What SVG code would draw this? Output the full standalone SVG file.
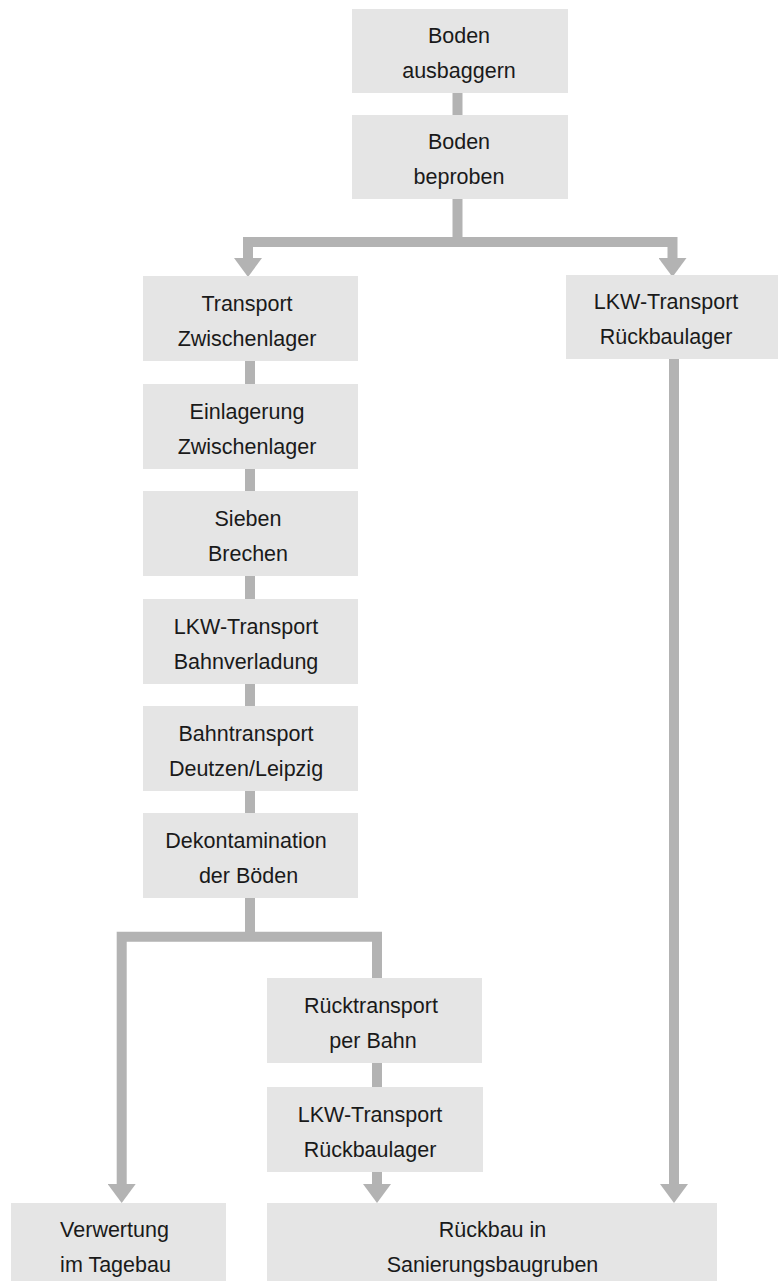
<svg xmlns="http://www.w3.org/2000/svg" width="778" height="1281" viewBox="0 0 778 1281">
<style>
.box{fill:#e5e5e5}
.t{font-family:"Liberation Sans",Arial,sans-serif;font-size:21.5px;fill:#1a1a1a;text-anchor:middle}
.c{fill:none;stroke:#b3b3b3;stroke-width:10;stroke-linejoin:miter;stroke-linecap:butt}
</style>
<defs>
<marker id="ah" markerUnits="userSpaceOnUse" markerWidth="19" markerHeight="28" refX="0" refY="14" orient="auto-start-reverse" viewBox="0 0 19 28">
<path d="M0,0 L19,14 L0,28 Z" fill="#b3b3b3"/>
</marker>
</defs>
<rect width="778" height="1281" fill="#ffffff"/>
<g id="connectors">
<path class="c" d="M457.5,93 V115"/>
<path class="c" d="M457.5,199 V242"/>
<path class="c" d="M248,258 V242 H672.5 V258" marker-start="url(#ah)" marker-end="url(#ah)"/>
<path class="c" d="M250,361 V384"/>
<path class="c" d="M250,469 V491"/>
<path class="c" d="M250,576 V599"/>
<path class="c" d="M250,684 V706"/>
<path class="c" d="M250,791 V813"/>
<path class="c" d="M250,898 V937"/>
<path class="c" d="M121.7,1184 V936.7 H377 V978" marker-start="url(#ah)"/>
<path class="c" d="M377,1063 V1087"/>
<path class="c" d="M377,1172 V1184" marker-end="url(#ah)"/>
<path class="c" d="M674,359 V1184" marker-end="url(#ah)"/>
</g>
<g id="n1"><rect class="box" x="352" y="9" width="216" height="84"/><text class="t" x="459" y="43">Boden</text><text class="t" x="459" y="78">ausbaggern</text></g>
<g id="n2"><rect class="box" x="352" y="115" width="216" height="84"/><text class="t" x="459" y="149">Boden</text><text class="t" x="459" y="184">beproben</text></g>
<g id="n3"><rect class="box" x="143" y="276" width="215" height="85"/><text class="t" x="247" y="310.5">Transport</text><text class="t" x="247" y="345.5">Zwischenlager</text></g>
<g id="n4"><rect class="box" x="566" y="275" width="216" height="84"/><text class="t" x="666" y="309">LKW-Transport</text><text class="t" x="666" y="344">Rückbaulager</text></g>
<g id="n5"><rect class="box" x="143" y="384" width="215" height="85"/><text class="t" x="247" y="418.5">Einlagerung</text><text class="t" x="247" y="453.5">Zwischenlager</text></g>
<g id="n6"><rect class="box" x="143" y="491" width="215" height="85"/><text class="t" x="248" y="525.5">Sieben</text><text class="t" x="248" y="560.5">Brechen</text></g>
<g id="n7"><rect class="box" x="143" y="599" width="215" height="85"/><text class="t" x="246" y="633.5">LKW-Transport</text><text class="t" x="246" y="668.5">Bahnverladung</text></g>
<g id="n8"><rect class="box" x="143" y="706" width="215" height="85"/><text class="t" x="246" y="740.5">Bahntransport</text><text class="t" x="246" y="775.5">Deutzen/Leipzig</text></g>
<g id="n9"><rect class="box" x="143" y="813" width="215" height="85"/><text class="t" x="246" y="847.5">Dekontamination</text><text class="t" x="248.5" y="882.5">der Böden</text></g>
<g id="n10"><rect class="box" x="267" y="978" width="215" height="85"/><text class="t" x="371" y="1012.5">Rücktransport</text><text class="t" x="373" y="1047.5">per Bahn</text></g>
<g id="n11"><rect class="box" x="267" y="1087" width="216" height="85"/><text class="t" x="370" y="1121.5">LKW-Transport</text><text class="t" x="370" y="1156.5">Rückbaulager</text></g>
<g id="n12"><rect class="box" x="11" y="1203" width="215" height="78"/><text class="t" x="114.5" y="1237">Verwertung</text><text class="t" x="115.5" y="1272">im Tagebau</text></g>
<g id="n13"><rect class="box" x="267" y="1203" width="450" height="78"/><text class="t" x="492.5" y="1237">Rückbau in</text><text class="t" x="492.5" y="1272">Sanierungsbaugruben</text></g>
</svg>
